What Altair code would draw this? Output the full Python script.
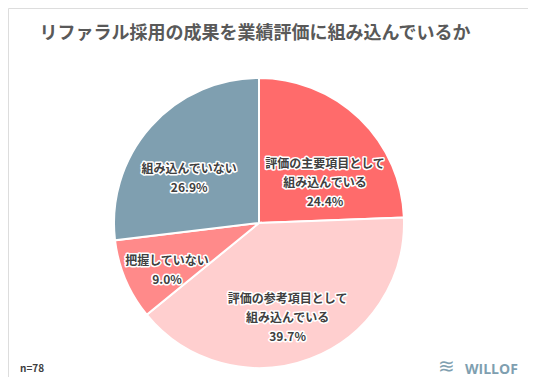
import altair as alt
import pandas as pd

categories = ["評価の主要項目として\n組み込んでいる", "評価の参考項目として\n組み込んでいる", "把握していない", "組み込んでいない"]
values = [24.4, 39.7, 9.0, 26.9]
colors = ["#FF6B6B", "#FFCFCF", "#FF8A8A", "#7F9FB0"]
title_text = "リファラル採用の成果を業績評価に組み込んでいるか"
note_text = "n=78"
brand_text = "WILLOF"
brand_icon = "≋"

df = pd.DataFrame({
    "cat": categories,
    "value": values,
    "order": list(range(len(categories))),
})
df["label"] = [f"{c}\n{v:.1f}%" for c, v in zip(categories, values)]

FONT = "Noto Sans CJK JP"
CX, CY = 251, 215

base = alt.Chart(df).encode(
    theta=alt.Theta("value:Q", stack=True),
    order=alt.Order("order:Q"),
)

arcs = base.mark_arc(outerRadius=145, stroke="white", strokeWidth=2).encode(
    color=alt.Color("cat:N", scale=alt.Scale(domain=categories, range=colors), legend=None),
    x=alt.value(CX), y=alt.value(CY),
)

label_specs = [
    (categories[0], 88, 5, 4),
    (categories[1], 81, 0, 0),
    (categories[2], 100, 0, -1),
    (categories[3], 88, -4, 4),
]

layers = [arcs]
for cat, r, dx, dy in label_specs:
    for halo in (True, False):
        kw = dict(radius=r, dx=dx, dy=dy, font=FONT, fontSize=12, fontWeight="bold",
                  lineBreak="\n", lineHeight=19, align="center", baseline="middle",
                  color="#404040")
        if halo:
            kw.update(stroke="white", strokeWidth=3, strokeJoin="round")
        layers.append(
            base.mark_text(**kw).encode(
                text="label:N", detail="cat:N",
                x=alt.value(CX), y=alt.value(CY),
                opacity=alt.condition(alt.datum.cat == cat, alt.value(1), alt.value(0)),
            )
        )

ann = alt.Chart(pd.DataFrame({"t": [title_text]})).mark_text(
    font=FONT, fontSize=18, fontWeight="bold", color="#595959", align="center", baseline="middle"
).encode(text="t:N", x=alt.value(247), y=alt.value(26))

note = alt.Chart(pd.DataFrame({"t": [note_text]})).mark_text(
    font=FONT, fontSize=10, fontWeight="bold", color="#404040", align="left", baseline="middle"
).encode(text="t:N", x=alt.value(12), y=alt.value(361))

brand = alt.Chart(pd.DataFrame({"t": [brand_text]})).mark_text(
    font="Open Sans", fontSize=14, fontWeight="bold", color="#7F9FB0", align="left", baseline="middle"
).encode(text="t:N", x=alt.value(457), y=alt.value(362))

icon = alt.Chart(pd.DataFrame({"t": [brand_icon]})).mark_text(
    font="DejaVu Sans", fontSize=20, color="#7F9FB0", align="left", baseline="middle"
).encode(text="t:N", x=alt.value(430), y=alt.value(359))

chart = alt.layer(*layers, ann, note, brand, icon).properties(
    width=520, height=369, autosize="none", padding=0
).configure_view(stroke=None).configure(background="white")

chart.save("out.html", embed_options={"renderer": "svg", "actions": False})
